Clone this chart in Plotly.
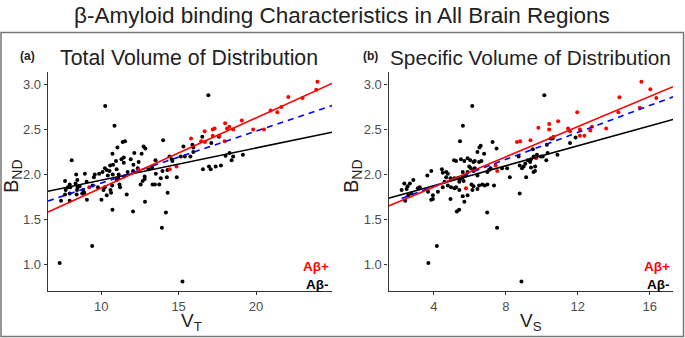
import plotly.graph_objects as go

# ---------------- data ----------------
# Panel (a): total volume of distribution V_T vs B_ND
vt_pos = [23.96, 23.88, 23.0, 22.08, 21.63, 21.37, 20.94, 20.51, 19.81, 19.08, 18.52, 18.27,
          18.12, 18.0, 17.97, 17.62, 17.32, 17.2, 17.2, 16.68, 16.7, 16.45, 15.8, 14.86, 14.43,
          12.42, 9.23]
bnd_pos_a = [3.03, 2.94, 2.85, 2.86, 2.75, 2.69, 2.71, 2.50, 2.50, 2.60, 2.50, 2.53,
             2.51, 2.57, 2.37, 2.43, 2.51, 2.50, 2.43, 2.48, 2.36, 2.37, 2.40, 2.09, 2.06,
             2.05, 1.86]

vt_neg = [16.92, 10.26, 10.86, 7.32, 9.42, 15.25, 13.92, 14.18, 12.83, 12.06, 10.73, 14.29,
          14.0, 12.74, 12.85, 11.54, 11.39, 11.05, 10.73, 12.14, 12.61, 11.46, 11.31, 11.91,
          10.96, 8.1, 10.77, 11.46, 12.42, 12.08, 12.36, 12.06, 10.58, 10.24, 10.36, 10.54,
          11.0, 10.09, 9.87, 9.59, 9.53, 8.95, 10.43, 10.75, 11.13, 11.11, 11.48, 11.71,
          13.51, 13.28, 13.06, 12.81, 12.68, 12.55, 12.81, 13.32, 13.47, 13.75, 13.85, 13.53,
          13.96, 14.28, 14.41, 14.56, 14.6, 14.24, 14.88, 15.14, 15.31, 15.40, 15.76, 15.95,
          15.89, 15.95, 16.53, 16.57, 16.96, 17.07, 17.39, 17.73, 17.11, 17.6, 18.03, 18.29,
          18.42, 18.52, 19.15,
          10.15, 10.24, 9.79, 10.02, 10.36, 10.6, 10.64, 10.71, 11.0, 11.18, 11.22, 11.65,
          8.39, 8.46, 8.35, 8.48, 8.44, 8.61, 8.83, 8.91, 8.78, 9.08, 7.97, 8.01, 7.86, 7.67,
          7.71, 7.97, 7.67, 7.41, 7.97, 8.42, 9.45, 9.06]
bnd_neg_a = [2.88, 2.76, 2.54, 1.02, 1.21, 0.815, 1.41, 1.58, 1.70, 1.59, 1.61, 1.80,
             2.38, 2.31, 2.29, 2.37, 2.36, 2.30, 2.23, 2.24, 2.23, 2.19, 2.17, 2.17,
             2.15, 2.16, 2.11, 2.13, 2.14, 2.11, 2.07, 2.04, 2.10, 2.07, 2.05, 2.04,
             2.06, 2.03, 2.01, 2.0, 1.97, 2.01, 1.99, 2.0, 2.0, 1.96, 1.98, 2.03,
             2.16, 2.08, 2.06, 1.98, 1.93, 1.89, 1.95, 1.89, 1.89, 1.89, 1.96, 2.01,
             2.04, 2.05, 2.20, 2.17, 2.15, 1.97, 1.97, 2.20, 2.31, 2.20, 2.20, 2.30,
             2.33, 2.25, 2.42, 2.06, 2.09, 2.06, 2.09, 2.10, 2.35, 2.42, 2.21, 2.24,
             2.16, 2.20, 2.22,
             1.83, 1.86, 1.86, 1.72, 1.77, 1.83, 1.80, 1.88, 1.94, 1.89, 1.86, 1.78,
             2.0, 1.94, 1.90, 1.86, 1.83, 1.87, 1.83, 1.80, 1.79, 1.72, 1.89, 1.86, 1.86, 1.93,
             1.83, 1.79, 1.78, 1.71, 1.71, 1.78, 1.88, 1.92]

# Panel (b): specific volume of distribution V_S vs B_ND
vs_pos = [15.54, 16.04, 16.37, 14.32, 14.26, 15.45, 11.97, 10.91, 10.41, 10.41, 9.81, 9.37,
          11.46, 11.57, 12.12, 12.12, 12.37, 12.7, 12.79, 13.58, 9.68, 10.65, 8.62, 8.8,
          7.52, 7.43, 5.78]
bnd_pos_b = [3.03, 2.945, 2.85, 2.856, 2.69, 2.74, 2.69, 2.59, 2.56, 2.50, 2.52, 2.38,
             2.51, 2.48, 2.50, 2.43, 2.43, 2.49, 2.53, 2.51, 2.18, 2.42, 2.36, 2.37,
             2.04, 2.10, 1.85]

vs_neg = [10.14, 6.13, 5.61, 3.69, 4.16, 8.87, 7.51, 6.96, 5.69, 5.27, 5.4, 8.77,
          5.45, 6.60, 6.53, 6.79, 7.26, 7.48, 6.42, 5.12, 5.23, 5.5, 5.69, 5.87, 6.02, 6.2,
          6.27, 6.51, 6.64, 6.27, 5.96, 6.05, 6.2, 5.87, 5.6, 5.78, 5.6, 5.32, 5.47, 5.14,
          4.92, 4.68, 4.49, 4.44, 4.68, 4.77, 4.59, 4.77, 4.95, 5.23, 5.41, 5.65, 6.09, 6.2,
          6.51, 6.69, 6.82, 6.97, 6.42, 6.14, 5.41, 5.14, 4.49, 4.22, 3.94, 3.67, 3.63, 3.85,
          3.21, 2.85, 2.66, 2.53, 2.48, 2.2, 2.57, 2.75, 3.85, 3.94, 4.92, 5.6, 5.87, 6.97,
          7.06, 7.15, 6.42, 7.34, 7.79, 8.07, 8.22, 8.71, 8.77, 8.99, 8.9, 9.13, 9.35, 9.63,
          9.54, 9.08,
          10.6, 10.5, 10.28, 9.5, 11.57, 11.88, 10.87, 10.32, 9.95, 10.05, 9.73, 9.55, 9.4,
          9.22, 10.25, 9.4, 9.62, 2.35, 2.4, 3.1]
bnd_neg_b = [2.88, 2.76, 2.54, 1.02, 1.21, 0.815, 1.41, 1.58, 1.70, 1.59, 1.61, 1.79,
             2.37, 2.32, 2.30, 2.23, 2.36, 2.29, 2.25, 2.16, 2.15, 2.17, 2.15, 2.18, 2.16, 2.14,
             2.15, 2.14, 2.15, 2.07, 2.09, 2.07, 2.04, 2.03, 2.03, 1.99, 1.97, 1.96, 1.95, 1.96,
             1.96, 1.97, 2.02, 2.06, 2.03, 2.01, 1.92, 1.88, 1.86, 1.86, 1.92, 1.93, 1.89, 1.87,
             1.88, 1.89, 1.88, 1.89, 1.84, 1.83, 1.83, 1.85, 1.86, 1.81, 1.77, 1.81, 1.99, 2.04,
             1.86, 1.94, 1.90, 1.87, 1.84, 1.83, 1.77, 1.79, 1.72, 1.73, 1.73, 1.76, 1.77, 2.03,
             2.05, 2.07, 1.99, 1.88, 2.07, 2.07, 1.97, 2.20, 2.10, 2.09, 2.07, 1.97, 2.14, 2.09,
             2.03, 2.12,
             2.40, 2.40, 2.33, 2.28, 2.35, 2.41, 2.22, 2.24, 2.20, 2.20, 2.22, 2.20, 2.17,
             2.16, 2.16, 2.08, 2.04, 1.90, 1.71, 1.85]

# Fitted regression lines (endpoints)
fit_a_x = [6.57, 24.9]
fit_a_pos = [1.585, 3.01]
fit_a_neg = [1.815, 2.47]
fit_a_all = [1.707, 2.765]

fit_b_x = [1.47, 17.3]
fit_b_pos = [1.652, 2.974]
fit_b_neg = [1.737, 2.611]
fit_b_all_x = [2.2, 17.3]
fit_b_all = [1.736, 2.862]

y_ticks = [1.0, 1.5, 2.0, 2.5, 3.0]
xa_ticks = [10, 15, 20]
xb_ticks = [4, 8, 12, 16]

# ---------------- figure ----------------
W, H = 685, 338
RED = "#FF0000"
BLUE = "#0000FF"
FONT = "Liberation Sans"


def px(x):
    return x / W


def py(y):
    return 1 - y / H


fig = go.Figure()

mk = dict(size=4, line=dict(width=0))
# panel a
fig.add_trace(go.Scatter(x=vt_neg, y=bnd_neg_a, mode="markers", marker=dict(color="black", **mk),
                         xaxis="x", yaxis="y", showlegend=False))
fig.add_trace(go.Scatter(x=vt_pos, y=bnd_pos_a, mode="markers", marker=dict(color=RED, **mk),
                         xaxis="x", yaxis="y", showlegend=False))
fig.add_trace(go.Scatter(x=fit_a_x, y=fit_a_neg, mode="lines", line=dict(color="black", width=1.6),
                         xaxis="x", yaxis="y", showlegend=False))
fig.add_trace(go.Scatter(x=fit_a_x, y=fit_a_all, mode="lines",
                         line=dict(color=BLUE, width=1.6, dash="6px,5px"),
                         xaxis="x", yaxis="y", showlegend=False))
fig.add_trace(go.Scatter(x=fit_a_x, y=fit_a_pos, mode="lines", line=dict(color=RED, width=1.6),
                         xaxis="x", yaxis="y", showlegend=False))
# panel b
fig.add_trace(go.Scatter(x=vs_neg, y=bnd_neg_b, mode="markers", marker=dict(color="black", **mk),
                         xaxis="x2", yaxis="y2", showlegend=False))
fig.add_trace(go.Scatter(x=vs_pos, y=bnd_pos_b, mode="markers", marker=dict(color=RED, **mk),
                         xaxis="x2", yaxis="y2", showlegend=False))
fig.add_trace(go.Scatter(x=fit_b_x, y=fit_b_neg, mode="lines", line=dict(color="black", width=1.6),
                         xaxis="x2", yaxis="y2", showlegend=False))
fig.add_trace(go.Scatter(x=fit_b_all_x, y=fit_b_all, mode="lines",
                         line=dict(color=BLUE, width=1.6, dash="6px,5px"),
                         xaxis="x2", yaxis="y2", showlegend=False))
fig.add_trace(go.Scatter(x=fit_b_x, y=fit_b_pos, mode="lines", line=dict(color=RED, width=1.6),
                         xaxis="x2", yaxis="y2", showlegend=False))

ydom = [py(291), py(72)]
axis_common = dict(showline=True, linecolor="#333333", linewidth=1.2, ticks="outside",
                   ticklen=3, tickcolor="#333333", tickwidth=1.1, showgrid=False, zeroline=False,
                   tickfont=dict(family=FONT, size=13, color="#4d4d4d"))

fig.update_layout(
    width=W, height=H,
    margin=dict(l=0, r=0, t=0, b=0),
    paper_bgcolor="white", plot_bgcolor="white",
    font=dict(family=FONT, color="#222222"),
    xaxis=dict(domain=[px(47.7), px(332)], range=[6.55, 24.9], tickvals=xa_ticks,
               anchor="y", **axis_common),
    yaxis=dict(domain=ydom, range=[0.71, 3.137], tickvals=y_ticks, tickformat=".1f",
               anchor="x", **axis_common),
    xaxis2=dict(domain=[px(388.5), px(673)], range=[1.47, 17.3], tickvals=xb_ticks,
                anchor="y2", **axis_common),
    yaxis2=dict(domain=ydom, range=[0.71, 3.137], tickvals=y_ticks, tickformat=".1f",
                anchor="x2", **axis_common),
)

ann = []


def add_text(text, x, y, size, color="#222222", xanchor="center", bold=False, angle=0):
    t = f"<b>{text}</b>" if bold else text
    ann.append(dict(text=t, x=px(x), y=py(y), xref="paper", yref="paper", showarrow=False,
                    xanchor=xanchor, yanchor="middle", textangle=angle,
                    font=dict(family=FONT, size=size, color=color)))


add_text("β-Amyloid binding Characteristics in All Brain Regions", 342, 15, 22.5)
add_text("(a)", 27, 56, 12, bold=True)
add_text("Total Volume of Distribution", 189, 58, 21.3)
add_text("(b)", 370, 56, 12, bold=True)
add_text("Specific Volume of Distribution", 530, 58, 20.8)
add_text("B<sub>ND</sub>", 12, 176, 20, angle=-90)
add_text("B<sub>ND</sub>", 352, 176, 20, angle=-90)
add_text("V<sub>T</sub>", 191, 322, 19)
add_text("V<sub>S</sub>", 531, 322, 19)
add_text("Aβ+", 331, 266, 13.5, color=RED, xanchor="right", bold=True)
add_text("Aβ-", 331, 284, 13.5, color="black", xanchor="right", bold=True)
add_text("Aβ+", 672, 266, 13.5, color=RED, xanchor="right", bold=True)
add_text("Aβ-", 672, 284, 13.5, color="black", xanchor="right", bold=True)
fig.update_layout(annotations=ann)

# outer frame around the panels
fig.add_shape(type="rect", xref="paper", yref="paper", x0=px(1), x1=px(683.5), y0=py(336.5),
              y1=py(32.5), line=dict(color="#777777", width=1.5), layer="below")

fig.write_html("out.html", config={"displayModeBar": False},
               post_script="document.body.style.margin='0';document.body.style.padding='0';")
